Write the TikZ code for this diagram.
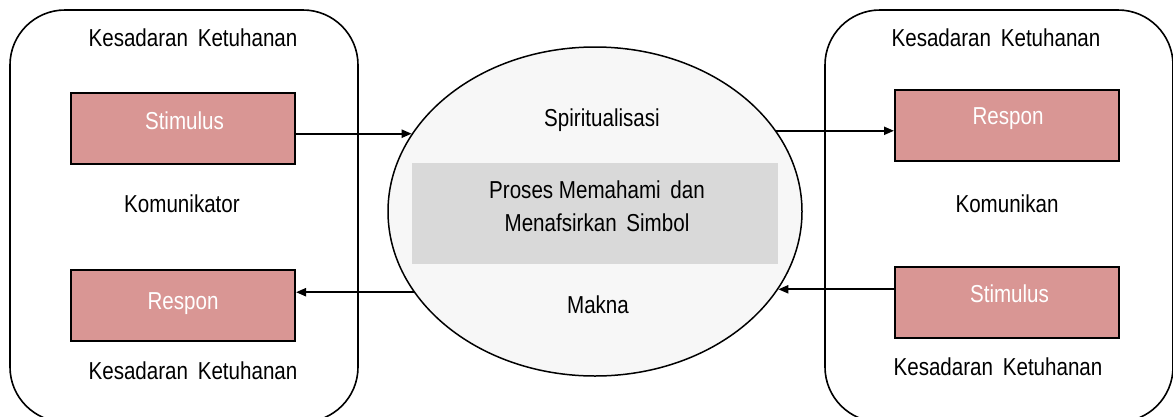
\documentclass[tikz,border=0pt]{standalone}
\usepackage{fontspec}
\setmainfont{Liberation Sans}[FakeStretch=0.84]
\usetikzlibrary{shapes.geometric,arrows.meta}
\definecolor{pinkfill}{HTML}{D99694}
\definecolor{panelgray}{HTML}{D9D9D9}
\definecolor{ovalfill}{HTML}{F7F7F7}
\tikzset{
  panel/.style={draw=black, line width=1.6pt, rounded corners=55pt},
  pinkbox/.style={draw=black, line width=2pt, fill=pinkfill, inner sep=0pt,
    minimum width=224pt, minimum height=71pt},
  boxtext/.style={anchor=base, text=white, inner sep=0pt},
  plain/.style={anchor=base, inner sep=0pt},
  arr/.style={line width=2pt, -{Triangle[length=10pt,width=8pt]}},
}
\begin{document}
\begin{tikzpicture}[x=1pt,y=-1pt,font=\fontsize{24.5}{33}\selectfont]
\useasboundingbox (0,0) rectangle (1173,416);

% outer panels (bottom edges run past the page)
\draw[panel] (10,10) rectangle (358,422);
\draw[panel] (825,10) rectangle (1173,422);

% central oval with the grey band
\node[ellipse, draw=black, line width=1.5pt, fill=ovalfill, inner sep=0pt,
  minimum width=414pt, minimum height=329pt] (ell) at (595,211.5) {};
\fill[panelgray] (412,163) rectangle (778,264);

% left side: communicator
\node[pinkbox] (stimL) at (183,128.5) {};
\node[pinkbox] (respL) at (183,305.5) {};
\node[boxtext] (stimLt) at (184.5,129) {Stimulus};
\node[boxtext] (respLt) at (183,309) {Respon};
\node[plain] (kesLtop) at (193,46) {Kesadaran\hspace{4pt} Ketuhanan};
\node[plain] (komL) at (182,212) {Komunikator};
\node[plain] (kesLbot) at (193,379) {Kesadaran\hspace{4pt} Ketuhanan};

% right side: communicant
\node[pinkbox] (respR) at (1007,125.5) {};
\node[pinkbox] (stimR) at (1007,302.5) {};
\node[boxtext] (respRt) at (1008,124) {Respon};
\node[boxtext] (stimRt) at (1009.5,302) {Stimulus};
\node[plain] (kesRtop) at (996,46) {Kesadaran\hspace{4pt} Ketuhanan};
\node[plain] (komR) at (1007,212) {Komunikan};
\node[plain] (kesRbot) at (998,375) {Kesadaran\hspace{4pt} Ketuhanan};

% centre texts
\node[plain] (spir) at (602,126) {Spiritualisasi};
\node[plain] (proses1) at (597,198) {Proses Memahami\hspace{4pt} dan};
\node[plain] (proses2) at (597,231) {Menafsirkan\hspace{4pt} Simbol};
\node[plain] (makna) at (598,313) {Makna};

% connectors
\coordinate (eTL) at (ell.157);
\coordinate (eBL) at (ell.204);
\coordinate (eTR) at (ell.24);
\coordinate (eBR) at (ell.337);
\draw[arr] (stimL.east |- eTL) -- (eTL);
\draw[arr] (eBL) -- (respL.east |- eBL);
\draw[arr] (eTR) -- (respR.west |- eTR);
\draw[arr] (stimR.west |- eBR) -- (eBR);
\end{tikzpicture}
\end{document}
